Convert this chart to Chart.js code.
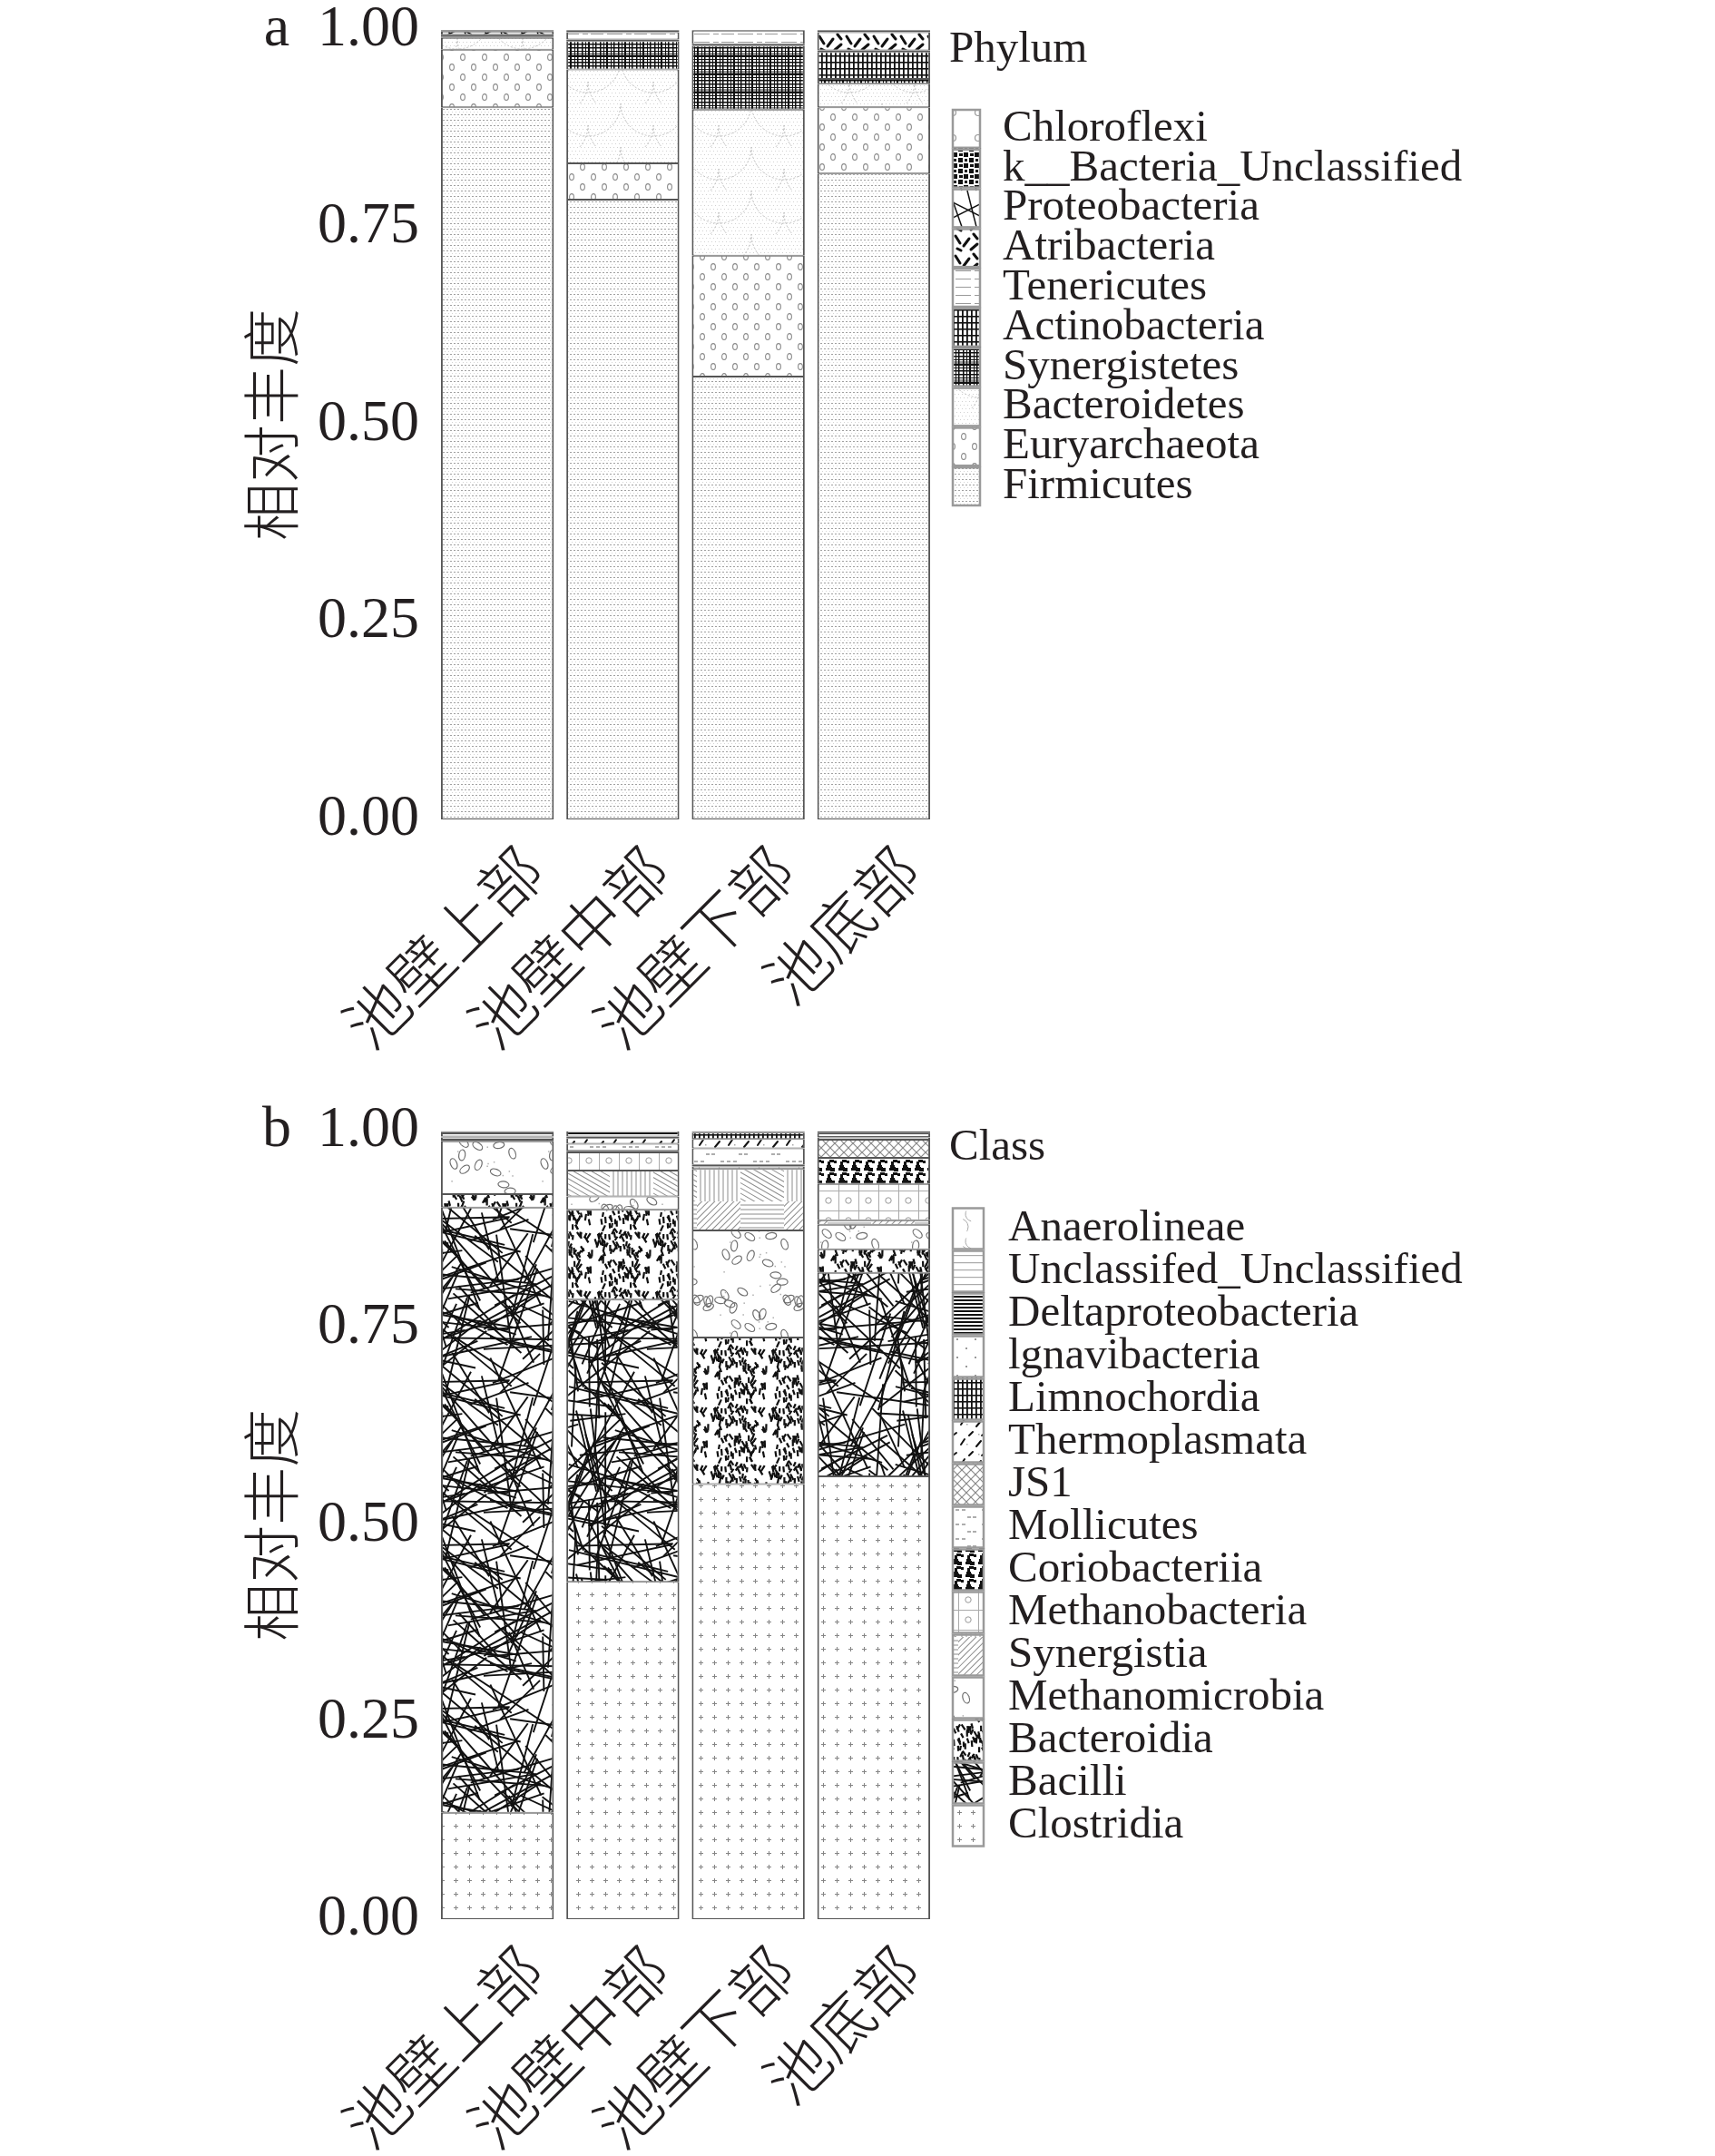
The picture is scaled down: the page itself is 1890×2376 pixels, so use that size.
<!DOCTYPE html>
<html>
<head>
<meta charset="utf-8">
<script src="https://cdn.jsdelivr.net/npm/chart.js@4.4.0/dist/chart.umd.min.js"></script>
<style>
  html, body { margin: 0; padding: 0; background: #fff; }
  body { width: 1890px; height: 2376px; position: relative; overflow: hidden; }
  .panel { position: absolute; left: 0; width: 1890px; }
  #wrapA { top: -30px; height: 1210px; }
  #wrapB { top: 1180px; height: 1196px; }
</style>
</head>
<body>
<div class="panel" id="wrapA"><canvas id="phylumChart"></canvas></div>
<div class="panel" id="wrapB"><canvas id="classChart"></canvas></div>
<script>
// sampling sites (x categories) and y ticks
const sites = ['池壁上部', '池壁中部', '池壁下部', '池底部'];
const yTicks = [0, 0.25, 0.5, 0.75, 1];

// phylum relative abundance, stacked bottom -> top
const firmicutes     = [0.902, 0.785, 0.561, 0.818];
const euryarchaeota  = [0.073, 0.046, 0.153, 0.084];
const bacteroidetes  = [0.015, 0.119, 0.185, 0.030];
const synergistetes  = [0.001, 0.036, 0.081, 0.006];
const actinobacteria = [0.001, 0.002, 0.002, 0.034];
const tenericutes    = [0.001, 0.009, 0.017, 0.002];
const atribacteria   = [0.001, 0.000, 0.000, 0.023];
const proteobacteria = [0.004, 0.002, 0.001, 0.002];
const bacteriaUncl   = [0.001, 0.000, 0.000, 0.000];
const chloroflexi    = [0.001, 0.001, 0.000, 0.001];

// class relative abundance, stacked bottom -> top
const clostridia          = [0.135, 0.428, 0.552, 0.562];
const bacilli             = [0.768, 0.358, 0.000, 0.258];
const bacteroidia         = [0.017, 0.114, 0.186, 0.030];
const methanomicrobia     = [0.067, 0.017, 0.136, 0.031];
const synergistia         = [0.000, 0.033, 0.078, 0.006];
const methanobacteria     = [0.002, 0.023, 0.003, 0.046];
const coriobacteriia      = [0.000, 0.002, 0.002, 0.033];
const mollicutes          = [0.000, 0.009, 0.021, 0.000];
const js1                 = [0.000, 0.000, 0.000, 0.023];
const thermoplasmata      = [0.003, 0.007, 0.012, 0.003];
const limnochordia        = [0.000, 0.000, 0.008, 0.000];
const ignavibacteria      = [0.001, 0.002, 0.000, 0.000];
const deltaproteobacteria = [0.004, 0.007, 0.001, 0.006];
const unclassifiedClass   = [0.002, 0.000, 0.001, 0.000];
const anaerolineae        = [0.001, 0.000, 0.000, 0.002];

const INK = '#231f20';
const CJK = "'Noto Sans CJK SC'";
Chart.defaults.font.family = "'Liberation Serif', serif";
Chart.defaults.color = INK;

// ---------- texture helpers (black & white fills like the print figure) ----------
function rng(seed) {
  let s = seed;
  return () => (s = (s * 16807) % 2147483647) / 2147483647;
}
function makePattern(w, h, draw) {
  const c = document.createElement('canvas');
  c.width = w; c.height = h;
  const g = c.getContext('2d');
  g.fillStyle = '#fff';
  g.fillRect(0, 0, w, h);
  draw(g, w, h);
  return g.createPattern(c, 'repeat');
}
function wrap(g, w, h, fn) {
  for (const dx of [-w, 0, w]) for (const dy of [-h, 0, h]) {
    g.save(); g.translate(dx, dy); fn(); g.restore();
  }
}
function seg(g, x1, y1, x2, y2) { g.beginPath(); g.moveTo(x1, y1); g.lineTo(x2, y2); g.stroke(); }

const tex = {
  finelines: makePattern(4, 6, g => { g.fillStyle = '#a0a0a0'; g.fillRect(0, 0, 2, 1); g.fillStyle = '#d4d4d4'; g.fillRect(2, 3, 1, 1); }),
  ovals0: makePattern(24, 22, g => {
    g.strokeStyle = '#8a8a8a'; g.lineWidth = 1.1;
    [[6, 5], [18, 16]].forEach(([x, y]) => { g.beginPath(); g.ellipse(x, y, 2.4, 3.4, 0, 0, Math.PI * 2); g.stroke(); });
  }),
  scales: makePattern(72, 48, g => {
    g.fillStyle = '#d2d2d2';
    for (let y = 0; y < 48; y += 4) for (let x = (y % 8 ? 2 : 0); x < 72; x += 4) g.fillRect(x, y, 1, 1);
    g.strokeStyle = '#c0c0c0'; g.lineWidth = 1; g.setLineDash([2, 2]);
    [[0, 0], [72, 0], [36, 24], [0, 48], [72, 48], [-36, 24], [108, 24]].forEach(([x, y]) => {
      g.beginPath(); g.arc(x, y, 36, 0, Math.PI); g.stroke();
    });
  }),
  plaid: makePattern(20, 20, g => {
    g.fillStyle = '#9a9a9a'; g.fillRect(0, 8, 20, 4);
    g.fillStyle = '#111';
    [[1, 1.5], [5, 1], [8, 2], [13, 1], [16, 1.5]].forEach(([x, w]) => g.fillRect(x, 0, w, 20));
    [[2, 1.5], [6, 1], [11, 2], [15, 1], [18, 1.5]].forEach(([y, w]) => g.fillRect(0, y, 20, w));
  }),
  grid: makePattern(5, 7, g => { g.fillStyle = '#111'; g.fillRect(0, 0, 1.8, 7); g.fillRect(0, 0, 5, 1.6); }),
  hlinesLight: makePattern(48, 9, g => {
    g.strokeStyle = '#9a9a9a'; g.lineWidth = 1.2; g.setLineDash([14, 4, 6, 3]); seg(g, 0, 4.5, 48, 4.5);
  }),
  zigs: makePattern(30, 22, g => {
    g.strokeStyle = '#111'; g.lineWidth = 3; g.lineCap = 'round';
    seg(g, 3, 4, 8, 12); seg(g, 12, 15, 18, 7); seg(g, 20, 19, 27, 13); seg(g, 23, 2, 27, 7); seg(g, 5, 18, 9, 20);
  }),
  diagNet: makePattern(40, 40, g => {
    g.strokeStyle = '#111'; g.lineWidth = 1.5;
    wrap(g, 40, 40, () => { seg(g, 0, 8, 40, 28); seg(g, 6, 0, 20, 40); seg(g, 26, 0, 36, 40); seg(g, 0, 35, 40, 15); });
  }),
  blotch: makePattern(12, 12, g => {
    g.fillStyle = '#111';
    g.fillRect(0, 0, 5, 5); g.fillRect(6, 6, 5, 5); g.fillRect(7, 1, 3, 3); g.fillRect(1, 7, 4, 3);
  }),
  circle: makePattern(28, 28, g => {
    g.strokeStyle = '#999'; g.lineWidth = 1.2; g.beginPath(); g.arc(14, 14, 3.5, 0, Math.PI * 2); g.stroke();
  }),
  plus: makePattern(15, 15, g => { g.fillStyle = '#858585'; g.fillRect(7, 5, 1, 5); g.fillRect(5, 7, 5, 1); }),
  lineNet: makePattern(180, 180, g => {
    const r = rng(31);
    g.strokeStyle = '#111'; g.lineWidth = 1.9;
    const ls = [];
    for (let i = 0; i < 95; i++) {
      const x = r() * 180, y = r() * 180, a = r() * Math.PI, len = 60 + r() * 80;
      ls.push([x - Math.cos(a) * len / 2, y - Math.sin(a) * len / 2, x + Math.cos(a) * len / 2, y + Math.sin(a) * len / 2]);
    }
    wrap(g, 180, 180, () => ls.forEach(l => seg(g, ...l)));
  }),
  dashes: makePattern(64, 64, g => {
    const r = rng(11);
    g.strokeStyle = '#111'; g.lineWidth = 2.2;
    const ds = [];
    for (let i = 0; i < 110; i++) {
      const x = r() * 64, y = r() * 64, a = (0.3 + r() * 0.4) * Math.PI, len = 5 + r() * 3;
      ds.push([x, y, x + Math.cos(a) * len, y + Math.sin(a) * len]);
    }
    wrap(g, 64, 64, () => ds.forEach(d => seg(g, ...d)));
  }),
  ovals: makePattern(100, 100, g => {
    const r = rng(23);
    g.strokeStyle = '#6e6e6e'; g.lineWidth = 1.2; g.fillStyle = '#b0b0b0';
    const os = [];
    for (let i = 0; i < 24; i++) os.push([r() * 100, r() * 100, r() * Math.PI]);
    const dots = [];
    for (let i = 0; i < 24; i++) dots.push([r() * 100, r() * 100]);
    wrap(g, 100, 100, () => {
      os.forEach(([x, y, a]) => { g.beginPath(); g.ellipse(x, y, 6, 3.5, a, 0, Math.PI * 2); g.stroke(); });
      dots.forEach(([x, y]) => g.fillRect(x, y, 1.5, 1.5));
    });
  }),
  hatchPatch: makePattern(96, 96, g => {
    g.strokeStyle = '#8c8c8c'; g.lineWidth = 1;
    const quads = [[0, 0, Math.PI / 2], [48, 0, Math.PI / 6], [0, 48, -Math.PI / 4], [48, 48, 0]];
    quads.forEach(([qx, qy, a]) => {
      g.save(); g.beginPath(); g.rect(qx, qy, 48, 48); g.clip();
      g.translate(qx + 24, qy + 24); g.rotate(a);
      for (let k = -40; k <= 40; k += 5) seg(g, -40, k, 40, k);
      g.restore();
    });
  }),
  cellCircle: makePattern(22, 22, g => {
    g.fillStyle = '#aaa'; g.fillRect(0, 0, 22, 1); g.fillRect(0, 0, 1, 22);
    g.strokeStyle = '#999'; g.lineWidth = 1; g.beginPath(); g.arc(11, 11, 3.2, 0, Math.PI * 2); g.stroke();
  }),
  blobs: makePattern(14, 14, g => {
    const r = rng(5);
    g.fillStyle = '#111';
    for (let i = 0; i < 7; i++) {
      const x = Math.floor(r() * 14), y = Math.floor(r() * 14), w = 3 + Math.floor(r() * 3), h = 3 + Math.floor(r() * 2);
      wrap(g, 14, 14, () => g.fillRect(x, y, w, h));
    }
  }),
  shortDash: makePattern(36, 16, g => {
    g.strokeStyle = '#777'; g.lineWidth = 1.2;
    seg(g, 2, 4, 6, 4); seg(g, 9, 4, 13, 4); seg(g, 16, 4, 20, 4); seg(g, 22, 12, 26, 12); seg(g, 28, 12, 32, 12);
  }),
  lattice: makePattern(10, 10, g => {
    g.strokeStyle = '#8a8a8a'; g.lineWidth = 1.2;
    wrap(g, 10, 10, () => { seg(g, 0, 0, 10, 10); seg(g, 10, 0, 0, 10); });
  }),
  marks: makePattern(32, 22, g => {
    g.strokeStyle = '#111'; g.lineWidth = 2; g.lineCap = 'round';
    seg(g, 3, 16, 7, 10); seg(g, 12, 6, 16, 2); seg(g, 20, 18, 25, 12); seg(g, 26, 6, 30, 3);
    g.fillStyle = '#aaa'; g.fillRect(9, 15, 1.5, 1.5); g.fillRect(22, 4, 1.5, 1.5);
  }),
  dots: makePattern(20, 20, g => { g.fillStyle = '#999'; g.fillRect(4, 5, 2, 2); g.fillRect(14, 15, 2, 2); }),
  hlinesDark: makePattern(4, 4, g => { g.fillStyle = '#111'; g.fillRect(0, 0, 4, 2); }),
  hlinesGrey: makePattern(4, 8, g => { g.fillStyle = '#aaa'; g.fillRect(0, 3, 4, 1.2); }),
  swirl: makePattern(30, 30, g => {
    g.strokeStyle = '#aaa'; g.lineWidth = 1;
    g.beginPath(); g.arc(8, 22, 9, -1.2, 0.6); g.stroke();
    g.beginPath(); g.arc(22, 8, 8, 1.8, 3.6); g.stroke();
  })
};

function layer(label, data, fill) {
  return {
    label, data, backgroundColor: fill,
    borderColor: '#555', borderWidth: { left: 2, right: 2, top: 1, bottom: 1 },
    borderSkipped: false, barPercentage: 0.9, categoryPercentage: 1
  };
}

const phylumSets = [
  layer('Firmicutes', firmicutes, tex.finelines),
  layer('Euryarchaeota', euryarchaeota, tex.ovals0),
  layer('Bacteroidetes', bacteroidetes, tex.scales),
  layer('Synergistetes', synergistetes, tex.plaid),
  layer('Actinobacteria', actinobacteria, tex.grid),
  layer('Tenericutes', tenericutes, tex.hlinesLight),
  layer('Atribacteria', atribacteria, tex.zigs),
  layer('Proteobacteria', proteobacteria, tex.diagNet),
  layer('k__Bacteria_Unclassified', bacteriaUncl, tex.blotch),
  layer('Chloroflexi', chloroflexi, tex.circle)
];

const classSets = [
  layer('Clostridia', clostridia, tex.plus),
  layer('Bacilli', bacilli, tex.lineNet),
  layer('Bacteroidia', bacteroidia, tex.dashes),
  layer('Methanomicrobia', methanomicrobia, tex.ovals),
  layer('Synergistia', synergistia, tex.hatchPatch),
  layer('Methanobacteria', methanobacteria, tex.cellCircle),
  layer('Coriobacteriia', coriobacteriia, tex.blobs),
  layer('Mollicutes', mollicutes, tex.shortDash),
  layer('JS1', js1, tex.lattice),
  layer('Thermoplasmata', thermoplasmata, tex.marks),
  layer('Limnochordia', limnochordia, tex.grid),
  layer('lgnavibacteria', ignavibacteria, tex.dots),
  layer('Deltaproteobacteria', deltaproteobacteria, tex.hlinesDark),
  layer('Unclassifed_Unclassified', unclassifiedClass, tex.hlinesGrey),
  layer('Anaerolineae', anaerolineae, tex.swirl)
];

// legend drawn beside the plot: title, then stacked swatches (top layer first)
const sideLegend = {
  id: 'sideLegend',
  afterDraw(chart, args, o) {
    const ctx = chart.ctx;
    const x0 = chart.chartArea.right + o.dx;
    ctx.save();
    ctx.font = "49px 'Liberation Serif'";
    ctx.fillStyle = INK;
    ctx.textBaseline = 'alphabetic';
    ctx.fillText(o.title, x0 - 3, chart.chartArea.top + o.titleDy);
    chart.data.datasets.slice().reverse().forEach((d, i) => {
      const y = chart.chartArea.top + o.itemsDy + i * o.pitch;
      ctx.fillStyle = d.backgroundColor;
      ctx.fillRect(x0, y, o.boxW, o.pitch);
      ctx.strokeStyle = '#9a9a9a'; ctx.lineWidth = 2.5;
      ctx.strokeRect(x0 + 1, y + 1, o.boxW - 2, o.pitch - 2);
      ctx.fillStyle = INK;
      ctx.textBaseline = 'middle';
      ctx.fillText(d.label, x0 + o.boxW + o.gap, y + o.pitch / 2);
    });
    ctx.restore();
  }
};

// panel letter (a / b) level with the top tick
const panelLetter = {
  id: 'panelLetter',
  afterDraw(chart, args, o) {
    const ctx = chart.ctx;
    ctx.save();
    ctx.font = "64px 'Liberation Serif'";
    ctx.fillStyle = INK;
    ctx.textAlign = 'center';
    ctx.textBaseline = 'middle';
    ctx.fillText(o.text, o.x, chart.chartArea.top);
    ctx.restore();
  }
};

function buildChart(id, datasets, letter, legend, pad, xHeight) {
  return new Chart(document.getElementById(id).getContext('2d'), {
    type: 'bar',
    data: { labels: sites, datasets },
    plugins: [sideLegend, panelLetter],
    options: {
      responsive: true,
      maintainAspectRatio: false,
      animation: false,
      devicePixelRatio: 1,
      layout: { padding: pad },
      plugins: {
        legend: { display: false },
        tooltip: { enabled: false },
        sideLegend: legend,
        panelLetter: { text: letter, x: 305 }
      },
      scales: {
        x: {
          stacked: true,
          grid: { display: false, drawTicks: false },
          border: { display: false },
          ticks: {
            autoSkip: false, minRotation: 45, maxRotation: 45, padding: 19, labelOffset: 38,
            color: INK, font: { family: CJK, size: 69, weight: 300, lineHeight: 1 }
          },
          afterFit: s => { s.height = xHeight; }
        },
        y: {
          stacked: true, min: 0, max: 1,
          afterBuildTicks: s => { s.ticks = yTicks.map(v => ({ value: v })); },
          grid: { display: false, drawTicks: false },
          border: { display: false },
          ticks: {
            padding: 17, color: INK,
            font: { size: 64, lineHeight: 1 },
            callback: v => v.toFixed(2)
          },
          title: {
            display: true, text: '相对丰度', color: INK, padding: { top: 30, bottom: 0 },
            font: { family: CJK, size: 64, weight: 300, lineHeight: 1.2 }
          },
          afterFit: s => { s.width = 249; }
        }
      }
    }
  });
}

buildChart('phylumChart', phylumSets, 'a',
  { title: 'Phylum', dx: 17, titleDy: 35, itemsDy: 87, pitch: 43.8, boxW: 32, gap: 24 },
  { top: 63, left: 230, right: 858, bottom: 0 }, 277);

buildChart('classChart', classSets, 'b',
  { title: 'Class', dx: 17, titleDy: 31, itemsDy: 84, pitch: 47, boxW: 36, gap: 26 },
  { top: 66.5, left: 230, right: 858, bottom: 0 }, 261);
</script>
</body>
</html>
